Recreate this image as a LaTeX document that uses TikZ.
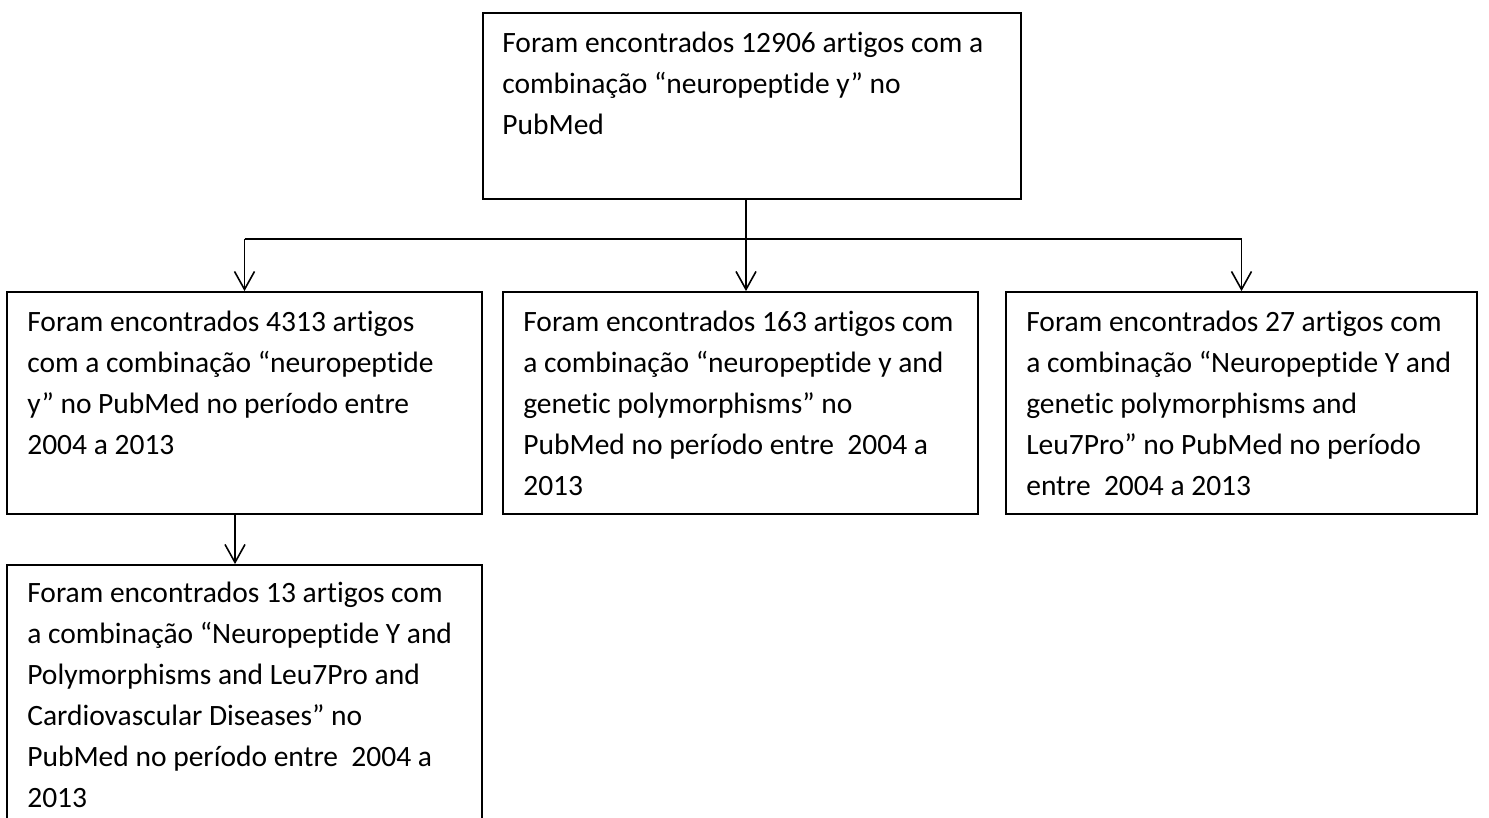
\documentclass[tikz,border=0pt]{standalone}
\usepackage{fontspec}
\setmainfont{Carlito}[Ligatures=NoCommon]
\usetikzlibrary{arrows.meta}
\begin{document}
\begin{tikzpicture}[x=1pt,y=-1pt,
  boxnode/.style={draw=black,line width=1.8pt,rectangle,inner sep=0pt},
  conn/.style={line width=1.6pt,draw=black},
  arr/.style={conn,-{Straight Barb[length=18pt,width=20pt,line width=1.6pt]}},
  txt/.style={anchor=base west,inner sep=0pt,font=\fontsize{29.5}{41}\selectfont}
]
\useasboundingbox (0,0) rectangle (1489,818);
\fill[white] (0,0) rectangle (1489,818);
% boxes
\node[boxnode,minimum width=538pt,minimum height=186pt] (top) at (752,106) {};
\node[boxnode,minimum width=475pt,minimum height=222pt] (b1) at (244.5,403) {};
\node[boxnode,minimum width=475pt,minimum height=222pt] (b2) at (740.5,403) {};
\node[boxnode,minimum width=471pt,minimum height=222pt] (b3) at (1241.5,403) {};
\node[boxnode,minimum width=475pt,minimum height=270pt] (b4) at (244.5,700) {};
% texts
\newcommand{\boxtext}[1]{\parbox[t]{600pt}{\raggedright #1}}
\node[txt] (t0) at ([shift={(20pt,-40pt)}]top.north west) {\boxtext{Foram encontrados 12906 artigos com a\\combinação “neuropeptide y” no\\PubMed}};
\node[txt] (t1) at ([shift={(21pt,-40pt)}]b1.north west) {\boxtext{Foram encontrados 4313 artigos\\com a combinação “neuropeptide\\y” no PubMed no período entre\\2004 a 2013}};
\node[txt] (t2) at ([shift={(21pt,-40pt)}]b2.north west) {\boxtext{Foram encontrados 163 artigos com\\a combinação “neuropeptide y and\\genetic polymorphisms” no\\PubMed no período entre\ \ 2004 a\\2013}};
\node[txt] (t3) at ([shift={(21pt,-40pt)}]b3.north west) {\boxtext{Foram encontrados 27 artigos com\\a combinação “Neuropeptide Y and\\genetic polymorphisms and\\Leu7Pro” no PubMed no período\\entre\ \ 2004 a 2013}};
\node[txt] (t4) at ([shift={(21pt,-38pt)}]b4.north west) {\boxtext{Foram encontrados 13 artigos com\\a combinação “Neuropeptide Y and\\Polymorphisms and Leu7Pro and\\Cardiovascular Diseases” no\\PubMed no período entre\ \ 2004 a\\2013}};
% connectors
\coordinate (j) at (746,239);
\draw[conn] (top.south -| j) -- (j);
\draw[arr] (j) -- (j |- b2.north);
\draw[conn] (b1.north |- j) -- (b3.north |- j);
\draw[arr] (b1.north |- j) -- (b1.north);
\draw[arr] (b3.north |- j) -- (b3.north);
\draw[arr] ([xshift=-9.5pt]b1.south) -- ([xshift=-9.5pt]b1.south |- b4.north);
\end{tikzpicture}
\end{document}
